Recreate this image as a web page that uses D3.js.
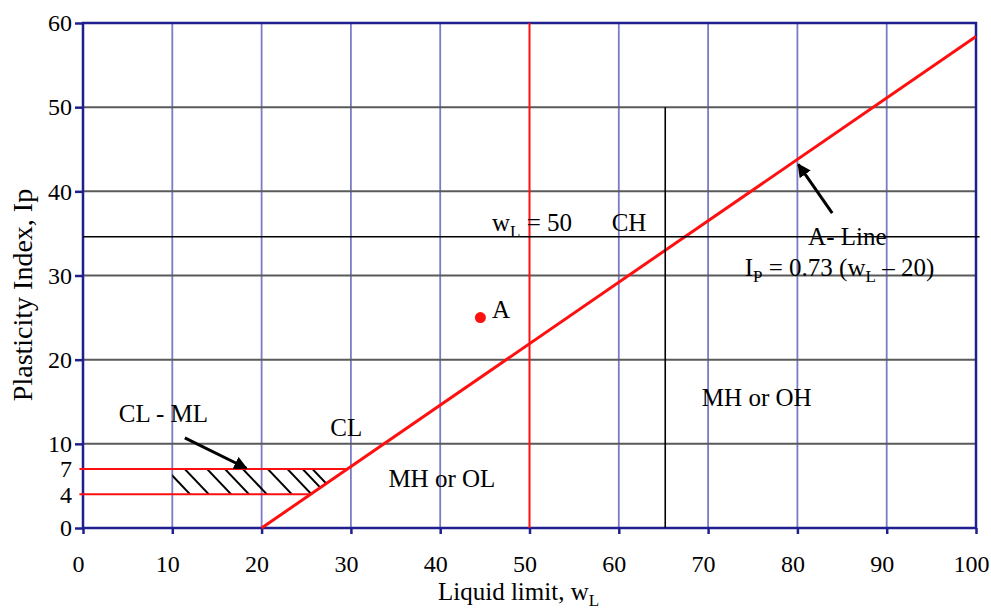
<!DOCTYPE html>
<html>
<head>
<meta charset="utf-8">
<script src="https://cdn.jsdelivr.net/npm/d3@7"></script>
<style>
  body { margin: 0; background: #fff; }
  text { font-family: "Liberation Serif", "Times New Roman", serif; fill: #000; }
</style>
</head>
<body>
<div id="chart"></div>
<script>
// chart values
var xTicks = [0, 10, 20, 30, 40, 50, 60, 70, 80, 90, 100];
var yTicks = [0, 4, 7, 10, 20, 30, 40, 50, 60];
var xGrid = [10, 20, 30, 40, 60, 70, 80, 90];
var yGrid = [10, 20, 30, 40, 50];
var aLinePts = [[20, 0], [100, 58.4]];          // Ip = 0.73 (wL - 20)
var wL50Line = [[50, 0], [50, 60]];
var line7 = [[-0.4, 7], [29.6, 7]];
var line4 = [[-0.4, 4], [25.5, 4]];
var hatchZone = [[10, 7], [29.6, 7], [25.5, 4], [10, 4]];
var hatchTops = [9.3, 11.4, 13.9, 15.9, 17.9, 20.7, 22.9, 24.6, 25.7];
var hatchRun = 2.7;
var blackH = [[0, 34.6], [100.4, 34.6]];
var blackV = [[65.2, 0], [65.2, 50]];
var pointA = [44.5, 25];
var arrows = [
  { from: [11.4, 10.7], to: [18.3, 7.1] },
  { from: [83.9, 37.4], to: [80.1, 43.2] }
];
var labels = [
  { x: 4.0, y: 12.6, t: "CL - ML" },
  { x: 27.7, y: 10.9, t: "CL" },
  { x: 34.2, y: 4.9, t: "MH or OL" },
  { x: 69.3, y: 14.5, t: "MH or OH" },
  { x: 59.2, y: 35.3, t: "CH" },
  { x: 81.2, y: 33.6, t: "A- Line" },
  { x: 45.8, y: 25, t: "A" }
];

var width = 991, height = 610;
var margin = { top: 23, right: 15, bottom: 82, left: 83 };

var svg = d3.select("#chart").append("svg")
  .attr("width", width)
  .attr("height", height);

var x = d3.scaleLinear().domain([0, 100]).range([margin.left, width - margin.right]);
var y = d3.scaleLinear().domain([0, 60]).range([height - margin.bottom, margin.top]);

var line = d3.line().x(d => x(d[0])).y(d => y(d[1]));

// grid
svg.append("g").selectAll("line").data(xGrid).join("line")
  .attr("x1", d => x(d)).attr("x2", d => x(d))
  .attr("y1", y(0)).attr("y2", y(60))
  .attr("stroke", "#7b7bc6").attr("stroke-width", 1.8);

svg.append("g").selectAll("line").data(yGrid).join("line")
  .attr("x1", x(0)).attr("x2", x(100))
  .attr("y1", d => y(d)).attr("y2", d => y(d))
  .attr("stroke", "#5a5a5a").attr("stroke-width", 2);

// frame
svg.append("rect")
  .attr("x", x(0)).attr("y", y(60))
  .attr("width", x(100) - x(0)).attr("height", y(0) - y(60))
  .attr("fill", "none").attr("stroke", "#1f1f8f").attr("stroke-width", 2.5);

// axes
var xAxis = svg.append("g")
  .attr("transform", `translate(0,${y(0)})`)
  .call(d3.axisBottom(x).tickValues(xTicks).tickSize(6).tickPadding(21).tickFormat(d3.format("d")));
xAxis.select(".domain").remove();
xAxis.selectAll(".tick line").attr("stroke", "#1f1f8f").attr("stroke-width", 2.5);
xAxis.selectAll(".tick text").attr("font-size", 24).attr("dx", -5)
  .attr("font-family", "Liberation Serif");

var yAxis = svg.append("g")
  .attr("transform", `translate(${x(0)},0)`)
  .call(d3.axisLeft(y).tickValues(yTicks).tickSize(8).tickPadding(3).tickFormat(d3.format("d")));
yAxis.select(".domain").remove();
yAxis.selectAll(".tick line").attr("stroke", d => (d === 4 || d === 7) ? "none" : "#1f1f8f").attr("stroke-width", 2.5);
yAxis.selectAll(".tick text").attr("font-size", 24).attr("font-family", "Liberation Serif");

// hatch clipped to zone
svg.append("clipPath").attr("id", "hz").append("path")
  .attr("d", line(hatchZone) + "Z");
svg.append("g").attr("clip-path", "url(#hz)")
  .selectAll("line").data(hatchTops).join("line")
  .attr("x1", d => x(d)).attr("y1", y(7))
  .attr("x2", d => x(d + hatchRun)).attr("y2", y(4))
  .attr("stroke", "#000").attr("stroke-width", 2);

// red lines
[aLinePts, wL50Line, line7, line4].forEach(function (pts, i) {
  svg.append("path").datum(pts)
    .attr("d", line)
    .attr("fill", "none")
    .attr("stroke", "#ff1010")
    .attr("stroke-width", i === 0 ? 3 : 2);
});

// black lines
[blackH, blackV].forEach(function (pts) {
  svg.append("path").datum(pts)
    .attr("d", line)
    .attr("fill", "none")
    .attr("stroke", "#000")
    .attr("stroke-width", 1.6);
});

// point A
svg.append("circle")
  .attr("cx", x(pointA[0])).attr("cy", y(pointA[1]))
  .attr("r", 5.5).attr("fill", "#ff1010");

// arrows
svg.append("defs").append("marker")
  .attr("id", "ah").attr("viewBox", "0 0 10 10")
  .attr("refX", 9).attr("refY", 5)
  .attr("markerWidth", 4.5).attr("markerHeight", 4.5)
  .attr("orient", "auto")
  .append("path").attr("d", "M0,0 L10,5 L0,10 Z").attr("fill", "#000");

svg.append("g").selectAll("line").data(arrows).join("line")
  .attr("x1", d => x(d.from[0])).attr("y1", d => y(d.from[1]))
  .attr("x2", d => x(d.to[0])).attr("y2", d => y(d.to[1]))
  .attr("stroke", "#000").attr("stroke-width", 3)
  .attr("marker-end", "url(#ah)");

// labels
svg.append("g").selectAll("text").data(labels).join("text")
  .attr("x", d => x(d.x)).attr("y", d => y(d.y))
  .attr("font-size", 25)
  .text(d => d.t);

// wL = 50
var t1 = svg.append("text").attr("x", x(45.8)).attr("y", y(35.3)).attr("font-size", 25);
t1.append("tspan").text("w");
t1.append("tspan").attr("font-size", 17).attr("dy", 6).text("L");
t1.append("tspan").attr("dy", -6).text(" = 50");

// A-line equation
var t2 = svg.append("text").attr("x", x(74.1)).attr("y", y(30)).attr("font-size", 25);
t2.append("tspan").text("I");
t2.append("tspan").attr("font-size", 17).attr("dy", 6).text("P");
t2.append("tspan").attr("dy", -6).text(" = 0.73 (w");
t2.append("tspan").attr("font-size", 17).attr("dy", 6).text("L");
t2.append("tspan").attr("dy", -6).text(" \u2013 20)");

// axis titles
var xt = svg.append("text").attr("x", 438).attr("y", 600).attr("font-size", 25);
xt.append("tspan").text("Liquid limit, w");
xt.append("tspan").attr("font-size", 17).attr("dy", 6).text("L");

svg.append("text")
  .attr("transform", "translate(32,295) rotate(-90)")
  .attr("text-anchor", "middle")
  .attr("font-size", 28)
  .text("Plasticity Index, Ip");
</script>
</body>
</html>
